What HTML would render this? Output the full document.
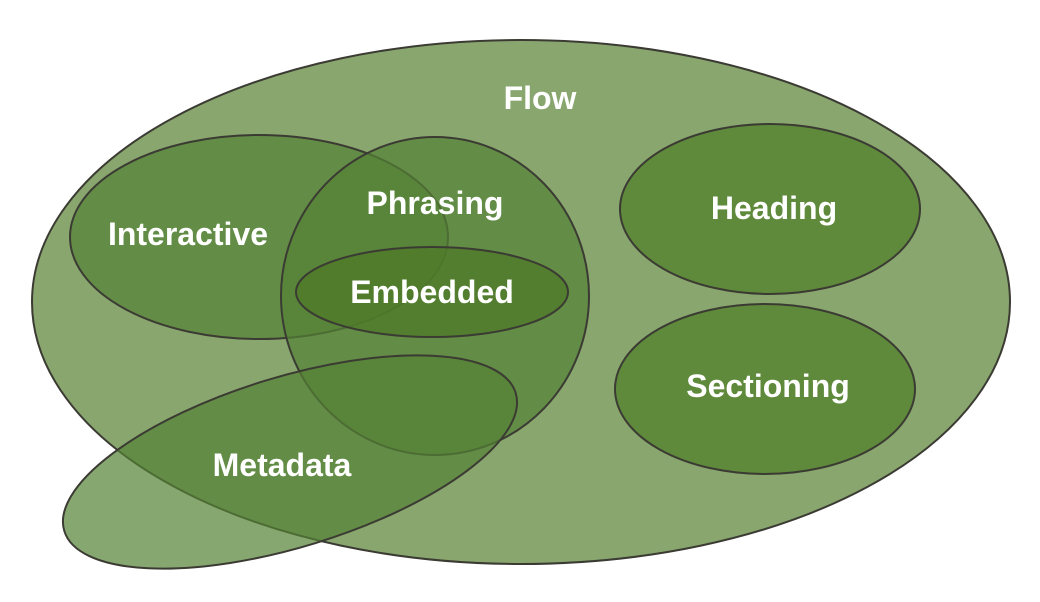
<!DOCTYPE html>
<html><head><meta charset="utf-8"><style>html,body{margin:0;padding:0;background:#fff}svg{display:block}</style></head>
<body>
<svg width="1040" height="602" viewBox="0 0 1040 602" xmlns="http://www.w3.org/2000/svg">
<g stroke="#3b3b33" stroke-width="2">
<ellipse cx="521" cy="302" rx="489" ry="262" fill="#88a66e"/>
<ellipse cx="770" cy="209" rx="150" ry="85" fill="#5f8a3b"/>
<ellipse cx="765" cy="389" rx="150" ry="85" fill="#5f8a3b"/>
<ellipse cx="259" cy="237" rx="189" ry="102" fill="#548235" fill-opacity="0.7"/>
<ellipse cx="435" cy="296" rx="154" ry="159" fill="#548235" fill-opacity="0.7"/>
<ellipse cx="290" cy="462" rx="236" ry="85" transform="rotate(-17 290 462)" fill="#548235" fill-opacity="0.7"/>
<ellipse cx="432" cy="292" rx="136" ry="45" fill="#4d7a28" fill-opacity="0.75"/>
</g>
<g fill="#fff" font-family="Liberation Sans, sans-serif" font-weight="bold" font-size="32" text-anchor="middle">
<text x="540" y="109">Flow</text>
<text x="435" y="214">Phrasing</text>
<text x="188" y="245">Interactive</text>
<text x="432" y="303">Embedded</text>
<text x="774" y="219">Heading</text>
<text x="768" y="397">Sectioning</text>
<text x="282" y="476">Metadata</text>
</g>
</svg>
</body></html>
